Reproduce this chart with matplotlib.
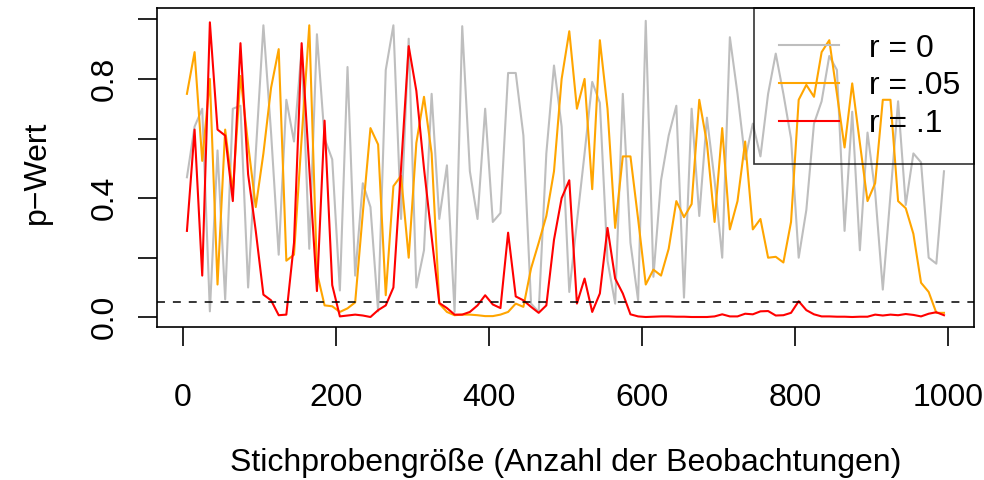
import numpy as np
import matplotlib.pyplot as plt

plt.rcParams['font.family'] = ['Liberation Sans', 'DejaVu Sans']

# sample sizes of the simulation runs
n_obs = np.arange(5, 1000, 10)

# p-values for true correlation r = 0
p_r0 = [0.47, 0.64, 0.70, 0.02, 0.56, 0.06, 0.70, 0.71, 0.10, 0.55,
        0.98, 0.62, 0.21, 0.73, 0.59, 0.90, 0.23, 0.95, 0.60, 0.53,
        0.09, 0.84, 0.14, 0.45, 0.37, 0.02, 0.83, 0.98, 0.33, 0.935,
        0.10, 0.225, 0.75, 0.33, 0.51, 0.018, 0.977, 0.49, 0.33, 0.70,
        0.32, 0.35, 0.82, 0.82, 0.61, 0.046, 0.018, 0.55, 0.845, 0.64,
        0.085, 0.32, 0.55, 0.79, 0.72, 0.19, 0.046, 0.75, 0.25, 0.057,
        0.995, 0.136, 0.46, 0.61, 0.71, 0.066, 0.70, 0.34, 0.67, 0.46,
        0.20, 0.94, 0.75, 0.53, 0.65, 0.54, 0.75, 0.885, 0.75, 0.60,
        0.20, 0.36, 0.65, 0.725, 0.877, 0.83, 0.29, 0.69, 0.225, 0.62,
        0.42, 0.093, 0.41, 0.725, 0.377, 0.55, 0.52, 0.20, 0.18, 0.49]

# p-values for r = .05
p_r05 = [0.75, 0.89, 0.525, 0.80, 0.11, 0.63, 0.42, 0.81, 0.58, 0.37,
         0.55, 0.77, 0.90, 0.19, 0.21, 0.60, 0.98, 0.15, 0.04, 0.037,
         0.018, 0.03, 0.05, 0.35, 0.635, 0.58, 0.074, 0.44, 0.475, 0.20,
         0.585, 0.74, 0.55, 0.046, 0.018, 0.007, 0.009, 0.009, 0.007, 0.004,
         0.004, 0.009, 0.018, 0.046, 0.035, 0.164, 0.25, 0.34, 0.49, 0.80,
         0.96, 0.70, 0.80, 0.43, 0.93, 0.70, 0.30, 0.54, 0.54, 0.33,
         0.11, 0.16, 0.14, 0.23, 0.39, 0.336, 0.38, 0.73, 0.585, 0.32,
         0.635, 0.295, 0.39, 0.59, 0.295, 0.33, 0.20, 0.203, 0.184, 0.32,
         0.73, 0.78, 0.74, 0.89, 0.93, 0.75, 0.57, 0.785, 0.585, 0.39,
         0.45, 0.73, 0.73, 0.39, 0.366, 0.28, 0.116, 0.085, 0.015, 0.015]

# p-values for r = .1
p_r1 = [0.29, 0.63, 0.14, 0.99, 0.63, 0.61, 0.39, 0.92, 0.48, 0.29,
        0.076, 0.057, 0.007, 0.009, 0.25, 0.92, 0.50, 0.088, 0.66, 0.108,
        0.003, 0.006, 0.009, 0.006, 0.001, 0.024, 0.04, 0.10, 0.50, 0.91,
        0.76, 0.50, 0.27, 0.048, 0.031, 0.009, 0.009, 0.018, 0.04, 0.074,
        0.043, 0.031, 0.284, 0.07, 0.057, 0.035, 0.015, 0.04, 0.26, 0.40,
        0.46, 0.046, 0.13, 0.018, 0.08, 0.30, 0.13, 0.08, 0.01, 0.003,
        0.001, 0.002, 0.003, 0.003, 0.002, 0.002, 0.001, 0.001, 0.001, 0.003,
        0.01, 0.003, 0.003, 0.012, 0.01, 0.02, 0.021, 0.006, 0.007, 0.015,
        0.054, 0.024, 0.01, 0.003, 0.003, 0.002, 0.002, 0.001, 0.002, 0.002,
        0.009, 0.006, 0.009, 0.007, 0.011, 0.008, 0.003, 0.012, 0.017, 0.007]

alpha = 0.05
series_labels = ['r = 0', 'r = .05', 'r = .1']
series_colors = ['#BEBEBE', '#FFA500', '#FF0000']
x_ticks = [0, 200, 400, 600, 800, 1000]
y_ticks = [0.0, 0.2, 0.4, 0.6, 0.8, 1.0]
y_ticklabels = ['0.0', '', '0.4', '', '0.8', '']

fs = 23

fig = plt.figure(figsize=(9.84, 4.8), dpi=100)
ax = fig.add_axes([0.1592, 0.3194, 0.8309, 0.6639])

lines = []
for p, lab, col in zip([p_r0, p_r05, p_r1], series_labels, series_colors):
    ln, = ax.plot(n_obs, p, color=col, lw=1.5, label=lab)
    lines.append(ln)

# significance threshold
ax.axhline(alpha, color='black', lw=1.1, linestyle=(0, (5.2, 5.2)))

ax.set_xlim(-34.6, 1034.6)
ax.set_ylim(-0.0315, 1.038)
ax.set_xticks(x_ticks)
ax.set_yticks(y_ticks)
ax.set_yticklabels(y_ticklabels)

for s in ax.spines.values():
    s.set_linewidth(1.2)
ax.tick_params(direction='out', length=13.5, width=1.2, labelsize=fs)
ax.tick_params(axis='x', pad=27)
ax.tick_params(axis='y', pad=13, labelrotation=90)
plt.setp(ax.get_yticklabels(), va='center')

ax.set_xlabel('Stichprobengröße (Anzahl der Beobachtungen)', fontsize=fs)
ax.xaxis.label.set_va('baseline')
ax.xaxis.set_label_coords(0.5, -0.452)
ax.set_ylabel('p\u2212Wert', fontsize=fs)
ax.yaxis.label.set_va('baseline')
ax.yaxis.set_label_coords(-0.1366, 0.485)

leg = ax.legend(handles=lines, loc='upper right', bbox_to_anchor=(0.7305, 0, 0.2695, 1.0),
                mode='expand', borderaxespad=0, fontsize=fs, handlelength=1.85,
                handletextpad=0.95, labelspacing=0.24, borderpad=0.8,
                fancybox=False, frameon=True)
leg.get_frame().set_edgecolor('black')
leg.get_frame().set_facecolor('none')
leg.get_frame().set_linewidth(1.2)

fig.savefig('out.png', dpi=100)
